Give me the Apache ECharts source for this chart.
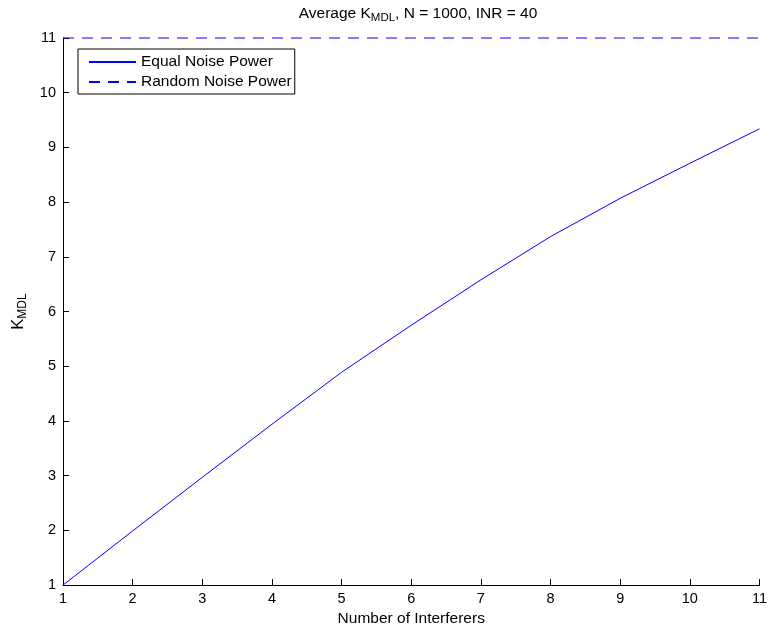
<!DOCTYPE html>
<html>
<head>
<meta charset="utf-8">
<script src="https://cdn.jsdelivr.net/npm/echarts@6/dist/echarts.min.js"></script>
<style>
  html, body { margin: 0; padding: 0; background: #fff; }
  #chart { width: 770px; height: 632px; }
</style>
</head>
<body>
<div id="chart"></div>
<script>
// number of interferers (x)
var interferers = [1, 2, 3, 4, 5, 6, 7, 8, 9, 10, 11];
// average K_MDL, equal noise power
var equalNoise = [1, 1.99, 2.97, 3.94, 4.89, 5.75, 6.58, 7.37, 8.07, 8.71, 9.34];
// average K_MDL, random noise power
var randomNoise = [11, 11, 11, 11, 11, 11, 11, 11, 11, 11, 11];

var font = 'Liberation Sans, Arial, sans-serif';

function pairs(xs, ys) {
  return xs.map(function (x, i) { return [x, ys[i]]; });
}

var chart = echarts.init(document.getElementById('chart'));
chart.setOption({
  backgroundColor: '#fff',
  animation: false,
  title: {
    text: '{k|Average K}{s|MDL}{k|, N = 1000, INR = 40}',
    left: 413,
    top: -2,
    textAlign: 'center',
    textStyle: {
      fontFamily: font, fontSize: 15.5, fontWeight: 'normal', color: '#000',
      rich: {
        k: { fontFamily: font, fontSize: 15.5, color: '#000' },
        s: { fontFamily: font, fontSize: 11.5, color: '#000', padding: [9, 0, 0, 0] }
      }
    }
  },
  grid: { left: 63, right: 10, top: 38, bottom: 45, containLabel: false },
  legend: {
    orient: 'vertical',
    left: 78,
    top: 49,
    padding: [5, 3, 4, 10],
    itemWidth: 47,
    itemHeight: 14,
    itemGap: 4,
    backgroundColor: '#fff',
    borderColor: '#000',
    borderWidth: 1,
    itemStyle: { opacity: 0 },
    textStyle: { fontFamily: font, fontSize: 15.5, color: '#000' },
    data: ['Equal Noise Power', 'Random Noise Power']
  },
  xAxis: {
    type: 'value',
    min: 1, max: 11, interval: 1,
    name: 'Number of Interferers',
    nameLocation: 'middle',
    nameGap: 24,
    nameTextStyle: { fontFamily: font, fontSize: 15.5, color: '#000' },
    axisLine: { lineStyle: { color: '#000', width: 1 } },
    axisTick: { inside: true, length: 6, lineStyle: { color: '#000' } },
    axisLabel: { fontFamily: font, fontSize: 14.5, color: '#000', margin: 6 },
    splitLine: { show: false }
  },
  yAxis: {
    type: 'value',
    min: 1, max: 11, interval: 1,
    name: '{k|K}{s|MDL}',
    nameLocation: 'middle',
    nameRotate: 90,
    nameGap: 33,
    nameTextStyle: {
      fontFamily: font, fontSize: 16.5, color: '#000',
      rich: {
        k: { fontFamily: font, fontSize: 16.5, color: '#000' },
        s: { fontFamily: font, fontSize: 12, color: '#000', padding: [10, 0, 0, 0] }
      }
    },
    axisLine: { lineStyle: { color: '#000', width: 1 } },
    axisTick: { inside: true, length: 6, lineStyle: { color: '#000' } },
    axisLabel: { fontFamily: font, fontSize: 14.5, color: '#000', margin: 7 },
    splitLine: { show: false }
  },
  series: [
    {
      name: 'Equal Noise Power',
      type: 'line',
      symbol: 'none',
      clip: false,
      color: '#0000ff',
      lineStyle: { color: '#0000ff', width: 1 },
      data: pairs(interferers, equalNoise)
    },
    {
      name: 'Random Noise Power',
      type: 'line',
      symbol: 'none',
      clip: false,
      color: '#0000ff',
      lineStyle: { color: '#0000ff', width: 1, type: [11, 8] },
      data: pairs(interferers, randomNoise)
    }
  ]
});
</script>
</body>
</html>
